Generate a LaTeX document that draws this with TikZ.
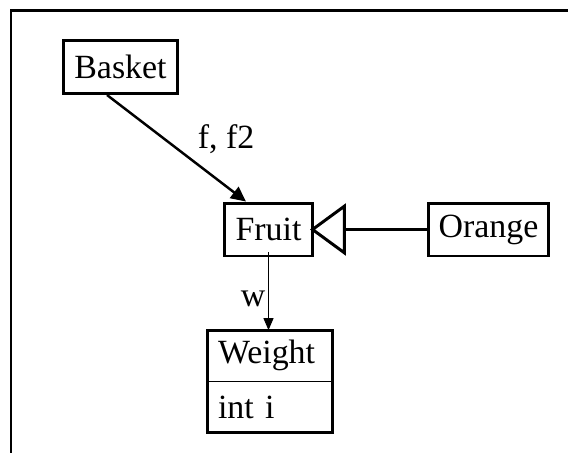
\documentclass[tikz,border=0pt]{standalone}
\usepackage{fontspec}
\setmainfont{Liberation Serif}
\usetikzlibrary{positioning,arrows.meta}
\tikzset{
  classbox/.style={draw,line width=1.7pt,minimum height=1.06cm,inner sep=0pt},
  fieldrow/.style={text width=2.08cm,align=left,inner xsep=0.21cm,inner ysep=0pt,minimum height=1.01cm},
}
\begin{document}
\begin{tikzpicture}[x=0.02cm,y=-0.02cm,font=\fontsize{19.3}{23}\selectfont]
  \useasboundingbox (0,0) rectangle (568,453);
  \draw [line width=1.4pt] (11,453) -- (11,10.5) -- (568,10.5);
  \node [classbox,minimum width=2.28cm] (basket) at (120.5,67) {Basket};
  \node [classbox,minimum width=1.76cm] (fruit) at (268.5,229.5) {Fruit};
  \node [classbox,minimum width=2.4cm] (orange) at (488.5,229.5) {Orange};
  \node [fieldrow] (weight) at (270,355.75) {Weight};
  \node [fieldrow,below=0pt of weight] (weighti) {int i};
  \draw [line width=0.5pt] (weight.south west) -- (weight.south east);
  \draw [line width=1.7pt] (weight.north west) rectangle (weighti.south east);
  % associations
  \draw [line width=1.4pt,-{Triangle[length=0.3cm,width=0.28cm]}] ([xshift=-0.27cm]basket.south) -- ([xshift=-0.45cm]fruit.north);
  \node (fflabel) at (226,139) {f, f2};
  \draw [line width=0.5pt,-{Triangle[length=0.24cm,width=0.2cm]}] ([yshift=0.1cm]fruit.south) -- (fruit.south |- weight.north);
  \node (wlabel) at (253,299) {w};
  % inheritance
  \draw [line width=1.7pt,shorten >=-0.08cm,-{Triangle[open,length=0.72cm,width=1.04cm]}] (orange) -- (fruit);
\end{tikzpicture}
\end{document}
